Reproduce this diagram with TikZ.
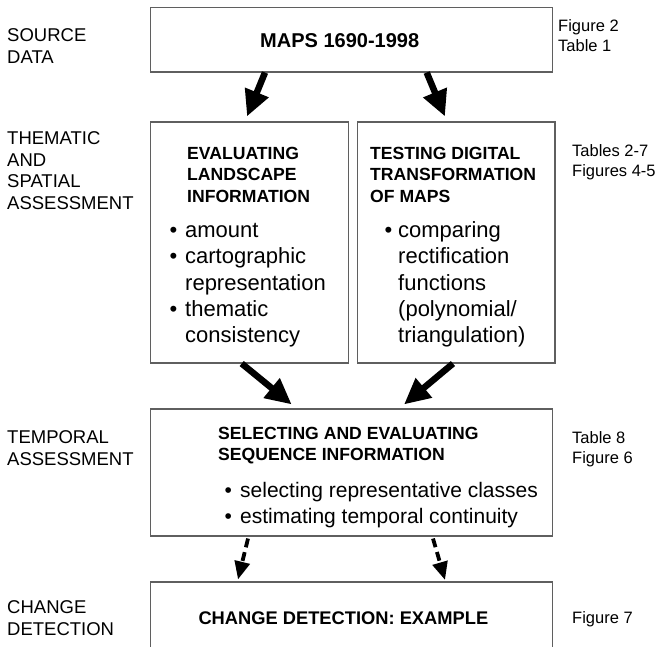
\documentclass[tikz,border=0pt]{standalone}
\usepackage{fontspec}
\setmainfont{Liberation Sans}
\usetikzlibrary{arrows.meta,calc}
\definecolor{boxgray}{RGB}{95,95,95}
\tikzset{
  box/.style={draw=boxgray, line width=1.1pt, inner sep=0pt, rectangle},
  lab/.style={anchor=base west, inner sep=0pt, align=left, font=\fontsize{18.5}{21.7}\selectfont},
  rlab/.style={anchor=base west, inner sep=0pt, align=left, font=\fontsize{16.5}{20.5}\selectfont},
  ttl/.style={anchor=base west, inner sep=0pt, align=left, font=\bfseries\fontsize{17.6}{21.5}\selectfont},
  bul/.style={anchor=base west, inner sep=0pt, align=left, font=\fontsize{22}{26.25}\selectfont},
  bigbul/.style={anchor=base west, inner sep=0pt, align=left, font=\fontsize{21}{26}\selectfont},
  bigarrow/.style={line width=6.5pt, -{Triangle[width=24pt,length=26pt]}},
  dasharrow/.style={line width=3.8pt, dash pattern=on 9pt off 5pt, -{Triangle[width=15pt,length=18pt]}}
}
\begin{document}
\begin{tikzpicture}[x=1pt, y=-1pt]
\useasboundingbox (0,0) rectangle (666,646);
\fill[white] (0,0) rectangle (666,646);

% boxes
\node[box, minimum width=402pt, minimum height=64.7pt] (top) at (351.7,39.65) {};
\node[box, minimum width=197.6pt, minimum height=241pt] (eval) at (249.5,242.5) {};
\node[box, minimum width=197.7pt, minimum height=241pt] (test) at (456.15,242.5) {};
\node[box, minimum width=402pt, minimum height=127pt] (temp) at (351.7,472.5) {};
\node[box, minimum width=402pt, minimum height=90pt] (chg) at (351.7,627) {};

% left labels (anchor = baseline of last line)
\node[lab] (lsrc) at (7,63.1) {SOURCE\\DATA};
\node[lab] (lthm) at (7,209.5) {THEMATIC\\AND\\SPATIAL\\ASSESSMENT};
\node[lab] (ltmp) at (7,465.1) {TEMPORAL\\ASSESSMENT};
\node[lab] (lchg) at (7,635.1) {CHANGE\\DETECTION};

% right labels
\node[rlab] (rsrc) at (558,51.5) {Figure 2\\Table 1};
\node[rlab] (rthm) at (572,176.5) {Tables 2-7\\Figures 4-5};
\node[rlab] (rtmp) at (572,463.5) {Table 8\\Figure 6};
\node[rlab] (rchg) at (572,623) {Figure 7};

% box texts
\node[anchor=base west, inner sep=0pt, font=\bfseries\fontsize{20}{24}\selectfont] (tmaps) at (260,47.2) {MAPS 1690-1998};
\node[ttl] (tev) at (187,202) {EVALUATING\\LANDSCAPE\\INFORMATION};
\node[ttl] (tts) at (370,202) {TESTING DIGITAL\\TRANSFORMATION\\OF MAPS};
\node[bul] (bev) at (185,342.5) {\llap{\textbullet\hspace{8pt}}amount\\\llap{\textbullet\hspace{8pt}}cartographic\\representation\\\llap{\textbullet\hspace{8pt}}thematic\\consistency};
\node[bul] (bts) at (398,342.5) {\llap{\textbullet\hspace{6pt}}comparing\\rectification\\functions\\(polynomial/\\triangulation)};
\node[ttl] (tsel) at (218,460.5) {SELECTING AND EVALUATING\\SEQUENCE INFORMATION};
\node[bigbul] (bsel) at (240,523) {\llap{\textbullet\hspace{8.3pt}}selecting representative classes\\\llap{\textbullet\hspace{8.3pt}}estimating temporal continuity};
\node[ttl, font=\bfseries\fontsize{18.3}{22}\selectfont] (tchg) at (198.3,624.4) {CHANGE DETECTION: EXAMPLE};

% arrows
\draw[bigarrow] ([xshift=-86.7pt]top.south) -- ([xshift=-2.5pt,yshift=5pt]eval.north);
\draw[bigarrow] ([xshift=75pt]top.south) -- ([xshift=-11.2pt,yshift=5pt]test.north);
\draw[bigarrow] ([xshift=-7.8pt]eval.south) -- ([xshift=-60pt,yshift=4pt]temp.north);
\draw[bigarrow] ([xshift=-3.2pt]test.south) -- ([xshift=52.3pt,yshift=4pt]temp.north);
\draw[dasharrow] ([xshift=-103.7pt,yshift=-2pt]temp.south) -- ([xshift=-113.7pt,yshift=2pt]chg.north);
\draw[dasharrow] ([xshift=81.3pt,yshift=-2pt]temp.south) -- ([xshift=93.3pt,yshift=1.5pt]chg.north);
\end{tikzpicture}
\end{document}
